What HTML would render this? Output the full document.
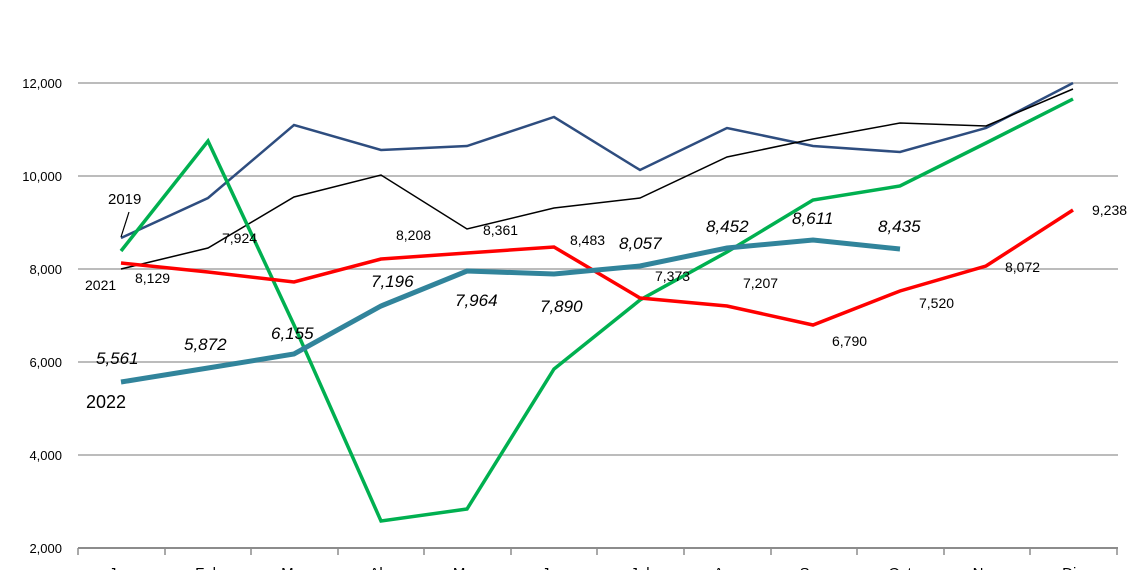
<!DOCTYPE html>
<html><head><meta charset="utf-8"><style>
body{margin:0;background:#fff;}
svg{display:block;font-family:"Liberation Sans",sans-serif;}
</style></head><body>
<svg width="1140" height="570" viewBox="0 0 1140 570">
<g stroke="#a6a6a6" stroke-width="1.5">
<line x1="78" y1="83" x2="1118" y2="83"/>
<line x1="78" y1="176" x2="1118" y2="176"/>
<line x1="78" y1="269" x2="1118" y2="269"/>
<line x1="78" y1="362" x2="1118" y2="362"/>
<line x1="78" y1="455" x2="1118" y2="455"/>
</g>
<line x1="78" y1="548" x2="1118" y2="548" stroke="#8c8c8c" stroke-width="2"/>
<g stroke="#8c8c8c" stroke-width="1.5">
<line x1="78" y1="548" x2="78" y2="555"/><line x1="165" y1="548" x2="165" y2="555"/><line x1="251" y1="548" x2="251" y2="555"/><line x1="338" y1="548" x2="338" y2="555"/><line x1="424" y1="548" x2="424" y2="555"/><line x1="511" y1="548" x2="511" y2="555"/><line x1="597" y1="548" x2="597" y2="555"/><line x1="684" y1="548" x2="684" y2="555"/><line x1="771" y1="548" x2="771" y2="555"/><line x1="857" y1="548" x2="857" y2="555"/><line x1="944" y1="548" x2="944" y2="555"/><line x1="1030" y1="548" x2="1030" y2="555"/><line x1="1117" y1="548" x2="1117" y2="555"/>
</g>
<g font-size="13" fill="#000" text-anchor="end">
<text x="62" y="88">12,000</text><text x="62" y="181">10,000</text><text x="62" y="274">8,000</text><text x="62" y="367">6,000</text><text x="62" y="460">4,000</text><text x="62" y="553">2,000</text>
</g>
<g font-size="15" fill="#000" text-anchor="middle">
<text x="121" y="578">Jan</text><text x="208" y="578">Feb</text><text x="294" y="578">Mar</text><text x="381" y="578">Abr</text><text x="467" y="578">May</text><text x="554" y="578">Jun</text><text x="640" y="578">Jul</text><text x="727" y="578">Ago</text><text x="813" y="578">Sep</text><text x="900" y="578">Oct</text><text x="986" y="578">Nov</text><text x="1073" y="578">Dic</text>
</g>
<polyline fill="none" stroke="#2e4d7f" stroke-width="2.5" points="121,238 208,198 294,125 381,150 467,146 554,117 640,170 727,128 813,146 900,152 986,128 1073,83"/>
<polyline fill="none" stroke="#000" stroke-width="1.5" points="121,269 208,248 294,197 381,175 467,229 554,208 640,198 727,157 813,139 900,123 986,126 1073,89"/>
<polyline fill="none" stroke="#00b050" stroke-width="3.5" points="121,251 208,141 294,325 381,521 467,509 554,369 640,300 727,252 813,200 900,186 986,143 1073,99"/>
<polyline fill="none" stroke="#ff0000" stroke-width="3.5" points="121,263 208,272 294,282 381,259 467,253 554,247 640,298 727,306 813,325 900,291 986,266 1073,210"/>
<polyline fill="none" stroke="#31849b" stroke-width="5" points="121,382 208,368 294,354 381,306 467,271 554,274 640,266 727,248 813,240 900,249"/>
<line x1="121" y1="237" x2="129" y2="212" stroke="#000" stroke-width="1.2"/>
<g font-size="15" fill="#000">
<text x="108" y="204">2019</text>
<text x="85" y="290" font-size="14">2021</text>
<text x="86" y="408" font-size="18">2022</text>
</g>
<g font-size="14" fill="#000">
<text x="135" y="283">8,129</text><text x="222" y="243">7,924</text><text x="396" y="240">8,208</text><text x="483" y="235">8,361</text><text x="570" y="245">8,483</text><text x="655" y="281">7,373</text><text x="743" y="288">7,207</text><text x="832" y="346">6,790</text><text x="919" y="308">7,520</text><text x="1005" y="272">8,072</text><text x="1092" y="215">9,238</text>
</g>
<g font-size="17" font-style="italic" fill="#000">
<text x="96" y="364">5,561</text><text x="184" y="350">5,872</text><text x="271" y="339">6,155</text><text x="371" y="287">7,196</text><text x="455" y="306">7,964</text><text x="540" y="312">7,890</text><text x="619" y="249">8,057</text><text x="706" y="232">8,452</text><text x="792" y="224">8,611</text><text x="878" y="232">8,435</text>
</g>
</svg>
</body></html>
